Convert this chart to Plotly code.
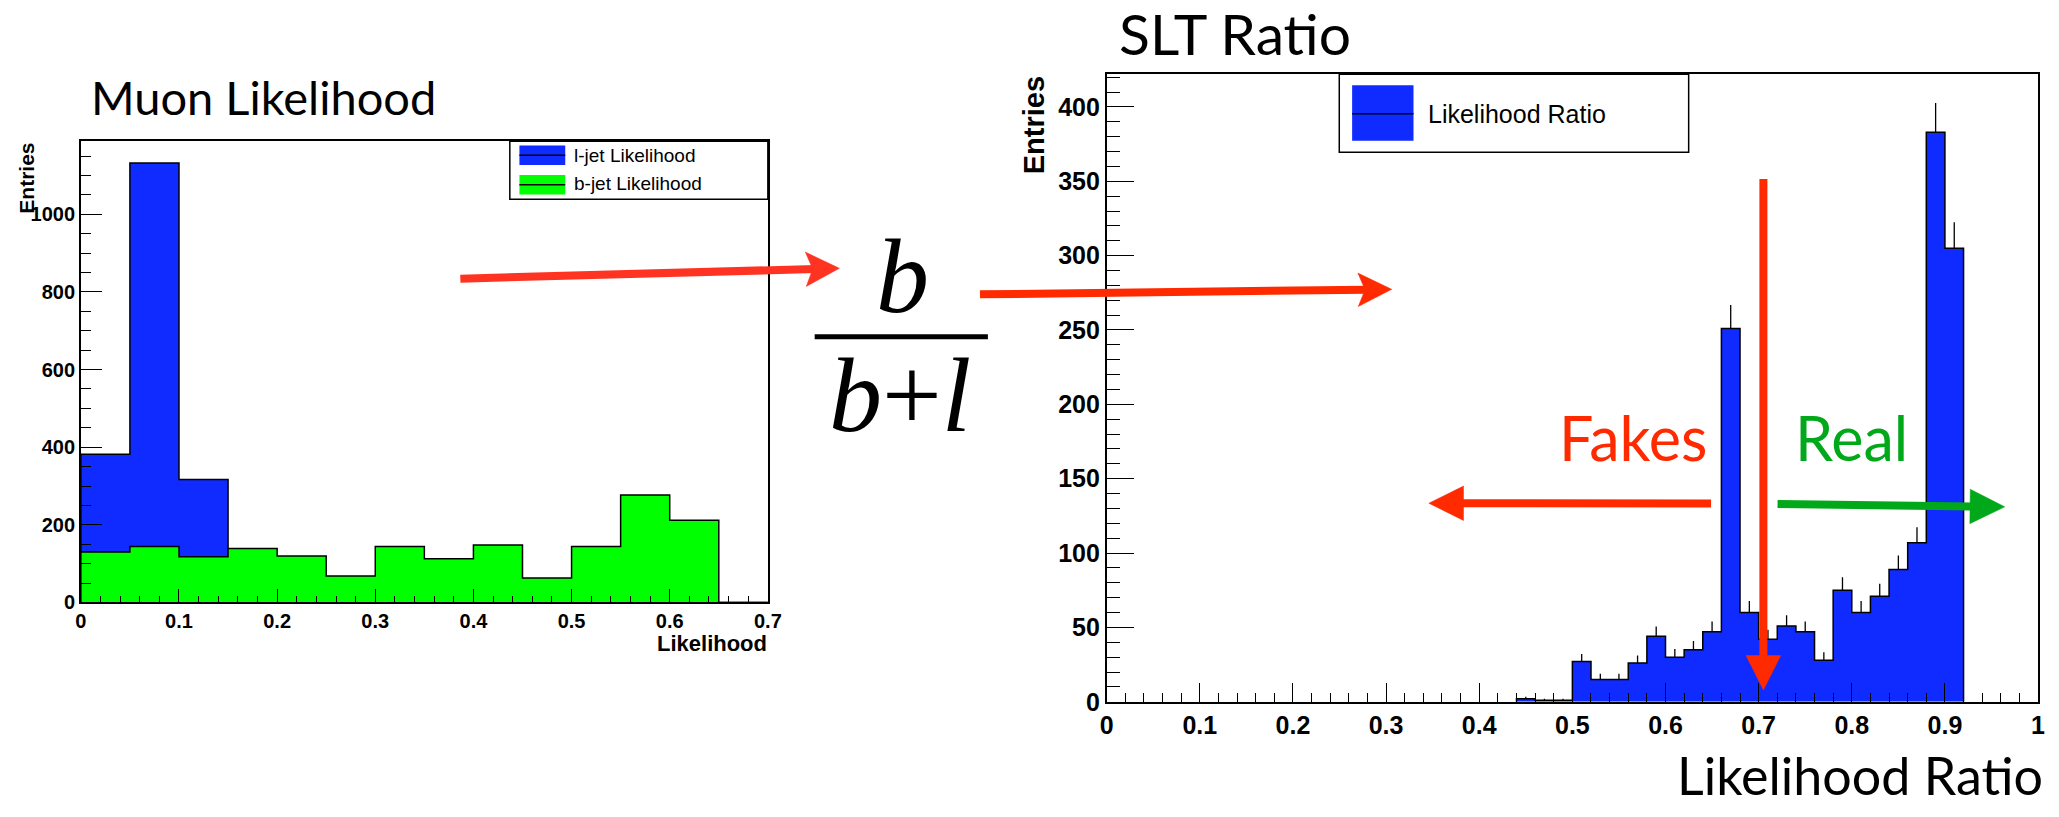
import plotly.graph_objects as go

W, H = 2059, 817

# ---------------- data ----------------
# Left panel: Muon Likelihood, bins of 0.05 from 0 to 0.7
muon_edges = [0.00, 0.05, 0.10, 0.15, 0.20, 0.25, 0.30, 0.35, 0.40,
              0.45, 0.50, 0.55, 0.60, 0.65, 0.70]
ljet_counts = [382, 1132, 317, 0, 0, 0, 0, 0, 0, 0, 0, 0, 0, 0]
bjet_counts = [130, 144, 118, 139, 120, 68, 144, 113, 148, 63, 144, 277, 212, 0]

# Right panel: SLT Ratio, bins of 0.02 (non-empty region 0.44-0.92)
ratio_edges = [0.44, 0.46, 0.48, 0.50, 0.52, 0.54, 0.56, 0.58, 0.60, 0.62,
               0.64, 0.66, 0.68, 0.70, 0.72, 0.74, 0.76, 0.78, 0.80, 0.82,
               0.84, 0.86, 0.88, 0.90, 0.92]
ratio_counts = [2, 1, 1, 27, 15, 15, 26, 44, 30, 35, 47, 251, 60, 42, 51, 47,
                28, 75, 60, 71, 89, 107, 383, 305]
ratio_errors = [1.4, 1.0, 1.0, 5.2, 3.9, 3.9, 5.1, 6.6, 5.5, 5.9, 6.9, 15.8,
                7.7, 6.5, 7.1, 6.9, 5.3, 8.7, 7.7, 8.4, 9.4, 10.3, 19.6, 17.5]

muon_xticks = [0, 0.1, 0.2, 0.3, 0.4, 0.5, 0.6, 0.7]
ratio_xticks = [0, 0.1, 0.2, 0.3, 0.4, 0.5, 0.6, 0.7, 0.8, 0.9, 1]

BLUE = "#0f2bff"
GREEN = "#00ff00"
RED = "#ff2a00"
RED2 = "#ff3322"
DGREEN = "#00a81a"

SANS = "Liberation Sans, Arial, sans-serif"
GILL = "Lato, Open Sans, sans-serif"
SERIF = "Liberation Serif, Times New Roman, serif"


def px(x):
    return x / W


def py(y):
    return 1 - y / H


def step(edges, vals):
    xs = [edges[0]] + list(edges)
    ys = [0] + list(vals) + [0]
    return xs, ys


fig = go.Figure()

# left panel histograms
xs, ys = step(muon_edges, ljet_counts)
fig.add_trace(go.Scatter(x=xs, y=ys, mode="lines", line=dict(shape="hv", color="black", width=1.5),
                         fill="tozeroy", fillcolor=BLUE, xaxis="x", yaxis="y", hoverinfo="skip"))
xs, ys = step(muon_edges, bjet_counts)
fig.add_trace(go.Scatter(x=xs, y=ys, mode="lines", line=dict(shape="hv", color="black", width=1.5),
                         fill="tozeroy", fillcolor=GREEN, xaxis="x", yaxis="y", hoverinfo="skip"))

# right panel histogram
xs, ys = step(ratio_edges, ratio_counts)
fig.add_trace(go.Scatter(x=xs, y=ys, mode="lines", line=dict(shape="hv", color="black", width=1.5),
                         fill="tozeroy", fillcolor=BLUE, xaxis="x2", yaxis="y2", hoverinfo="skip"))
centers = [(a + b) / 2 for a, b in zip(ratio_edges[:-1], ratio_edges[1:])]
fig.add_trace(go.Scatter(x=centers, y=ratio_counts, mode="markers",
                         marker=dict(size=1, color="rgba(0,0,0,0)"),
                         error_y=dict(type="data", symmetric=False, array=ratio_errors,
                                      arrayminus=[0] * len(ratio_errors), color="black",
                                      thickness=1.3, width=0),
                         xaxis="x2", yaxis="y2", hoverinfo="skip"))

axis_common = dict(showgrid=False, zeroline=False, showline=True, linecolor="black",
                   linewidth=1.5, mirror=True, ticks="inside", tickcolor="black", tickwidth=1)

fig.update_layout(
    width=W, height=H, margin=dict(l=0, r=0, t=0, b=0),
    paper_bgcolor="white", plot_bgcolor="white", showlegend=False,
    xaxis=dict(domain=[px(74.6), px(768.7)], range=[0, 0.7], anchor="y",
               tickvals=muon_xticks, ticktext=[str(v) for v in muon_xticks], ticklen=14,
               minor=dict(ticks="inside", ticklen=7, dtick=0.02, tick0=0, tickcolor="black", tickwidth=1),
               tickfont=dict(family=SANS, size=20, color="black", weight="bold"), **axis_common),
    yaxis=dict(domain=[py(613), py(143.8)], range=[0, 1188], anchor="x",
               dtick=200, tick0=0, ticklen=21, tickformat="d",
               minor=dict(ticks="inside", ticklen=10, dtick=50, tick0=0, tickcolor="black", tickwidth=1),
               tickfont=dict(family=SANS, size=20, color="black", weight="bold"), **axis_common),
    xaxis2=dict(domain=[px(1111), px(2052)], range=[0, 1], anchor="y2",
                tickvals=ratio_xticks, ticktext=[str(v) for v in ratio_xticks], ticklen=19,
                minor=dict(ticks="inside", ticklen=9, dtick=0.02, tick0=0, tickcolor="black", tickwidth=1),
                tickfont=dict(family=SANS, size=25, color="black", weight="bold"), **axis_common),
    yaxis2=dict(domain=[py(714), py(75.5)], range=[0, 422], anchor="x2",
                dtick=50, tick0=0, ticklen=28, tickformat="d",
                minor=dict(ticks="inside", ticklen=14, dtick=10, tick0=0, tickcolor="black", tickwidth=1),
                tickfont=dict(family=SANS, size=25, color="black", weight="bold"), **axis_common),
)

shapes = []
ann = []


def text(x, y, s, size, family, color="black", xanchor="center", yanchor="middle", angle=0, weight="normal"):
    ann.append(dict(x=px(x), y=py(y), xref="paper", yref="paper", text=s, showarrow=False,
                    xanchor=xanchor, yanchor=yanchor, textangle=angle, borderpad=0,
                    font=dict(family=family, size=size, color=color, weight=weight)))


def rect(x0, y0, x1, y1, fill=None, line_color="black", lw=1.5):
    shapes.append(dict(type="rect", xref="paper", yref="paper", x0=px(x0), x1=px(x1),
                       y0=py(y1), y1=py(y0), fillcolor=fill if fill else "rgba(0,0,0,0)",
                       line=dict(color=line_color, width=lw)))


def seg(x0, y0, x1, y1, color, lw):
    shapes.append(dict(type="line", xref="paper", yref="paper", x0=px(x0), y0=py(y0),
                       x1=px(x1), y1=py(y1), line=dict(color=color, width=lw)))


def arrow(x0, y0, x1, y1, color, lw=8, hl=34, hw=17.5, notch=0):
    dx, dy = x1 - x0, y1 - y0
    L = (dx * dx + dy * dy) ** 0.5
    ux, uy = dx / L, dy / L
    nx, ny = -uy, ux
    bx, by = x1 - ux * hl, y1 - uy * hl
    kx, ky = bx + ux * notch, by + uy * notch
    seg(x0, y0, kx + ux * 2, ky + uy * 2, color, lw)
    pts = [(x1, y1), (bx + nx * hw, by + ny * hw), (kx, ky), (bx - nx * hw, by - ny * hw)]
    path = "M " + " L ".join(f"{px(a):.6f},{py(b):.6f}" for a, b in pts) + " Z"
    shapes.append(dict(type="path", xref="paper", yref="paper", path=path,
                       fillcolor=color, line=dict(color=color, width=0.5)))


# titles
text(84, 99, "Muon Likelihood", 47, GILL, xanchor="left")
text(1122, 34, "SLT Ratio", 57, GILL, xanchor="left")
text(1686, 789, "Likelihood Ratio", 52, GILL, xanchor="left")

# axis titles
text(20, 181, "Entries", 21, SANS, angle=-90, weight="bold")
text(769, 655, "Likelihood", 22, SANS, xanchor="right", weight="bold")
text(1037, 127, "Entries", 29, SANS, angle=-90, weight="bold")

# left legend
rect(508, 143.8, 768.7, 202.7, fill="white")
rect(517.7, 148, 564, 168, fill=BLUE, line_color=BLUE, lw=0)
seg(517.7, 158, 564, 158, "black", 1.5)
rect(517.7, 178, 564, 198, fill=GREEN, line_color=GREEN, lw=0)
seg(517.7, 188, 564, 188, "black", 1.5)
text(572, 158, "l-jet Likelihood", 19, SANS, xanchor="left")
text(572, 187, "b-jet Likelihood", 19, SANS, xanchor="left")

# right legend
rect(1346, 75.5, 1699, 155, fill="white")
rect(1359, 86.7, 1421, 143.3, fill=BLUE, line_color=BLUE, lw=0)
seg(1359, 115.7, 1421, 115.7, "black", 1.5)
text(1435, 116, "Likelihood Ratio", 25, SANS, xanchor="left")

# fraction b/(b+l)
text(905, 342, "<i>b</i>", 106, SERIF, yanchor="bottom")
text(902, 342, "<i>b</i>+<i>l</i>", 106, SERIF, yanchor="top")
seg(816, 342.5, 991, 342.5, "black", 5)

# arrows
arrow(458, 283.5, 841, 273, RED2, lw=8, hl=34, hw=17.5, notch=7)
arrow(983, 299.5, 1399, 294.4, RED, lw=8, hl=34, hw=17, notch=7)
arrow(1774.5, 182, 1774.5, 702, RED, lw=8, hl=35, hw=17.5)
arrow(1721.6, 512.2, 1436.5, 512, RED, lw=8, hl=35, hw=17.5)
arrow(1788.8, 512.8, 2018.3, 515.7, DGREEN, lw=8, hl=35, hw=17.5)

# labels Fakes / Real
text(1567, 445, "Fakes", 61, GILL, color=RED, xanchor="left")
text(1805, 445, "Real", 61, GILL, color=DGREEN, xanchor="left")

fig.update_layout(shapes=shapes, annotations=ann)
fig.write_html("out.html")
